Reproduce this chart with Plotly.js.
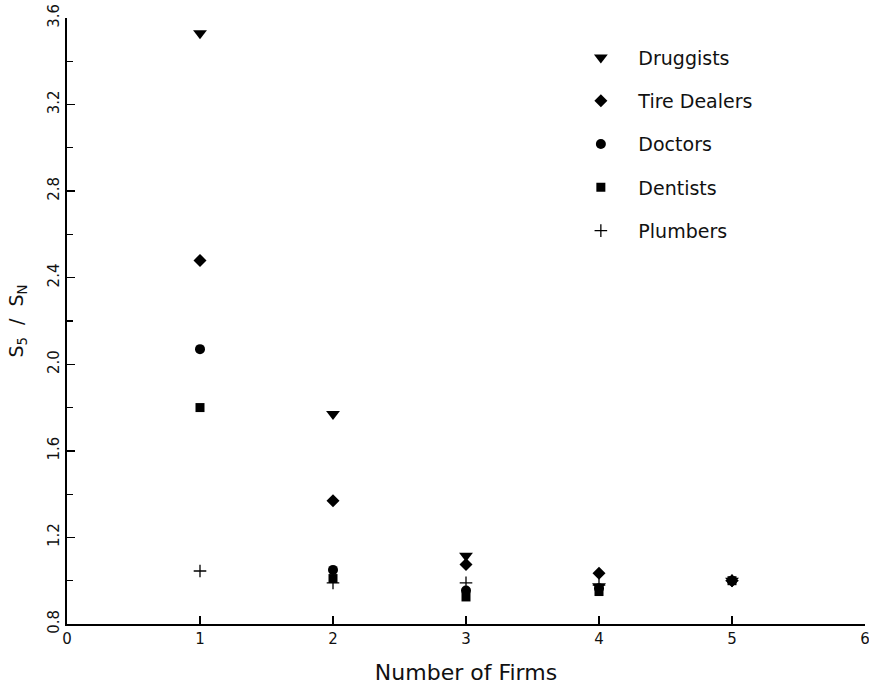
<!DOCTYPE html>
<html>
<head>
<meta charset="utf-8">
<script src="https://cdn.plot.ly/plotly-3.0.1.min.js"></script>
<style>html,body{margin:0;padding:0;background:#fff;}#chart{width:869px;height:686px;}</style>
</head>
<body>
<div id="chart"></div>
<script>
var firms = [1, 2, 3, 4, 5];
var seriesNames = ["Druggists", "Tire Dealers", "Doctors", "Dentists", "Plumbers"];
var druggists   = [3.53, 1.77, 1.115, 0.975, 1.00];
var tireDealers = [2.48, 1.37, 1.075, 1.035, 1.00];
var doctors     = [2.07, 1.05, 0.955, 0.965, 1.00];
var dentists    = [1.80, 1.01, 0.925, 0.950, 1.00];
var plumbers    = [1.045, 0.99, 0.99, 0.98, 1.00];
var yTickVals = [0.8, 1.2, 1.6, 2.0, 2.4, 2.8, 3.2, 3.6];
var yTickText = ["0.8", "1.2", "1.6", "2.0", "2.4", "2.8", "3.2", "3.6"];
var xTickVals = [0, 1, 2, 3, 4, 5, 6];

var seriesValues = [druggists, tireDealers, doctors, dentists, plumbers];
var symbols = ["triangle-down", "diamond", "circle", "square", "cross-thin"];
var sizes = [12, 10, 10, 9, 9];

var traces = seriesValues.map(function (vals, i) {
  var m = {symbol: symbols[i], size: sizes[i], color: "#000"};
  if (symbols[i] === "cross-thin") m.line = {color: "#000", width: 1.3};
  return {
    x: firms, y: vals, name: seriesNames[i], type: "scatter", mode: "markers",
    marker: m, legendgroup: "g" + i, cliponaxis: false
  };
});

var font = "DejaVu Sans, Liberation Sans, sans-serif";
var nb = "\u00A0";
var layout = {
  width: 869, height: 686,
  margin: {l: 67, r: 4, t: 18, b: 62},
  paper_bgcolor: "#fff", plot_bgcolor: "#fff",
  font: {family: font, color: "#111", size: 15},
  showlegend: true,
  legend: {
    x: 0.622, y: 0.966, xanchor: "left", yanchor: "top",
    font: {family: font, size: 19, color: "#111"},
    itemwidth: 65, tracegroupgap: 15.6, traceorder: "grouped",
    bgcolor: "rgba(0,0,0,0)", borderwidth: 0
  },
  xaxis: {
    range: [0, 6], tickvals: xTickVals, ticktext: xTickVals.map(String),
    ticks: "inside", ticklen: 8, tickwidth: 1.5, tickcolor: "#000",
    ticklabeloverflow: "allow",
    showline: true, linecolor: "#000", linewidth: 2, showgrid: false, zeroline: false,
    tickfont: {family: font, size: 15, color: "#111"},
    title: {text: "Number" + nb + "of" + nb + "Firms", font: {family: font, size: 22, color: "#111"}, standoff: 18}
  },
  yaxis: {
    range: [0.8, 3.6], tickvals: yTickVals, ticktext: yTickText,
    ticks: "inside", ticklen: 8, tickwidth: 1.5, tickcolor: "#000", tickangle: -90,
    ticklabeloverflow: "allow",
    minor: {tickvals: [1.0, 1.4, 1.8, 2.2, 2.6, 3.0, 3.4], ticks: "inside", ticklen: 6, tickwidth: 1.2, tickcolor: "#000"},
    showline: true, linecolor: "#000", linewidth: 2, showgrid: false, zeroline: false,
    tickfont: {family: font, size: 15, color: "#111"},
    title: {text: "S<sub>5</sub>" + nb + nb + "/" + nb + nb + "S<sub>N</sub>", font: {family: font, size: 19, color: "#111"}, standoff: 16}
  }
};

Plotly.newPlot("chart", traces, layout, {displayModeBar: false, staticPlot: true});
</script>
</body>
</html>
